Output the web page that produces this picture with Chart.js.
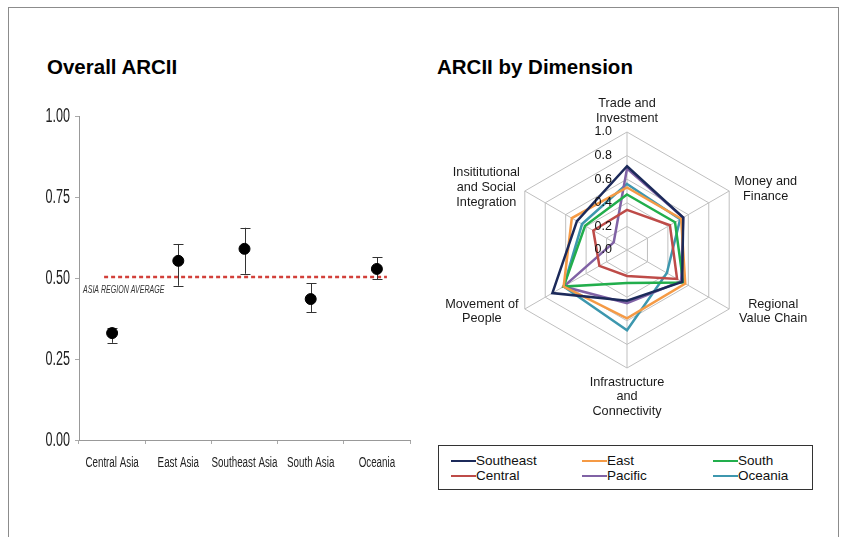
<!DOCTYPE html>
<html>
<head>
<meta charset="utf-8">
<script src="https://cdn.jsdelivr.net/npm/chart.js@4.4.1/dist/chart.umd.min.js"></script>
<style>
  html, body { margin:0; padding:0; background:#fff; }
  body { width:845px; height:537px; position:relative; overflow:hidden; font-family:"Liberation Sans", Arial, sans-serif; }
  #frame { position:absolute; left:8px; top:7px; width:829px; height:540px; border:1px solid #8c8c8c; border-bottom:none; }
  .title { position:absolute; font-weight:bold; font-size:20.5px; color:#000; line-height:20px; }
  #c1 { position:absolute; left:0; top:90px; }
  #c2 { position:absolute; left:430px; top:90px; }
  #legend { position:absolute; left:438px; top:445px; width:373px; height:43px; border:1px solid #333; }
  .li { position:absolute; font-size:13.5px; color:#111; line-height:14px; white-space:nowrap; }
  .ls { position:absolute; width:25px; height:2.5px; }
</style>
</head>
<body>
<div id="frame"></div>
<div class="title" style="left:47px; top:57px;">Overall ARCII</div>
<div class="title" style="left:437px; top:57px;">ARCII by Dimension</div>
<canvas id="c1" width="420" height="390"></canvas>
<canvas id="c2" width="415" height="340"></canvas>
<div id="legend"></div>
<script>
// ---- Overall ARCII data ----
const regions = ['Central Asia', 'East Asia', 'Southeast Asia', 'South Asia', 'Oceania'];
const overall = [0.33, 0.553, 0.59, 0.435, 0.528];
const errLow  = [0.30, 0.476, 0.513, 0.394, 0.496];
const errHigh = [0.347, 0.605, 0.655, 0.484, 0.564];
const asiaAverage = 0.503;
const averageLabel = 'ASIA REGION AVERAGE';
const overallTicks = [0, 0.25, 0.5, 0.75, 1.0];

// ---- ARCII by Dimension data ----
const dimensions = [
  ['Trade and', 'Investment'],
  ['Money and', 'Finance'],
  ['Regional', 'Value Chain'],
  ['Infrastructure', 'and', 'Connectivity'],
  ['Movement of', 'People'],
  ['Insititutional', 'and Social', 'Integration']
];
const seriesNames = ['Southeast', 'East', 'South', 'Central', 'Pacific', 'Oceania'];
const southeast = [0.71, 0.55, 0.54, 0.43, 0.73, 0.49];
const east      = [0.53, 0.53, 0.57, 0.58, 0.62, 0.54];
const south     = [0.47, 0.47, 0.55, 0.28, 0.62, 0.41];
const central   = [0.34, 0.42, 0.49, 0.22, 0.27, 0.33];
const pacific   = [0.69, 0.55, 0.53, 0.45, 0.62, 0.13];
const oceania   = [0.56, 0.52, 0.39, 0.68, 0.62, 0.44];
const radarTicks = [0, 0.2, 0.4, 0.6, 0.8, 1.0];

const seriesValues = [southeast, east, south, central, pacific, oceania];
const seriesColors = ['#1C2A5A', '#F59A45', '#22AE4C', '#BE4B48', '#8062A5', '#3D97AE'];

// draw horizontally condensed text (the source uses a narrow face)
function squeezed(ctx, text, x, y, sx, align) {
  ctx.save();
  ctx.translate(x, y);
  ctx.scale(sx, 1);
  ctx.textAlign = align;
  ctx.fillText(text, 0, 0);
  ctx.restore();
}

// ---------- Left chart ----------
const overallPlugin = {
  id: 'overallExtras',
  beforeDatasetsDraw(chart) {
    const xs = chart.scales.x, ys = chart.scales.y, ctx = chart.ctx;
    ctx.save();
    // average line
    const ay = ys.getPixelForValue(asiaAverage);
    ctx.strokeStyle = '#D2403A';
    ctx.lineWidth = 2.5;
    ctx.setLineDash([4, 3]);
    ctx.beginPath();
    ctx.moveTo(xs.getPixelForValue(0) - 8, ay);
    ctx.lineTo(xs.getPixelForValue(regions.length - 1) + 10, ay);
    ctx.stroke();
    ctx.setLineDash([]);
    ctx.fillStyle = '#333';
    ctx.font = 'italic 11px "Liberation Sans", Arial, sans-serif';
    ctx.textBaseline = 'middle';
    squeezed(ctx, averageLabel, chart.chartArea.left + 4, ay + 13, 0.64, 'left');
    // error bars
    ctx.strokeStyle = '#333';
    ctx.lineWidth = 1;
    regions.forEach((r, i) => {
      const px = Math.round(xs.getPixelForValue(i)) + 0.5;
      const lo = ys.getPixelForValue(errLow[i]);
      const hi = ys.getPixelForValue(errHigh[i]);
      ctx.beginPath();
      ctx.moveTo(px, lo); ctx.lineTo(px, hi);
      ctx.moveTo(px - 5, Math.round(lo) + 0.5); ctx.lineTo(px + 5, Math.round(lo) + 0.5);
      ctx.moveTo(px - 5, Math.round(hi) + 0.5); ctx.lineTo(px + 5, Math.round(hi) + 0.5);
      ctx.stroke();
    });
    ctx.restore();
  },
  afterDraw(chart) {
    const xs = chart.scales.x, ys = chart.scales.y, ctx = chart.ctx;
    ctx.save();
    ctx.fillStyle = '#222';
    ctx.textBaseline = 'middle';
    ctx.font = '20px "Liberation Sans", Arial, sans-serif';
    overallTicks.forEach(v => {
      squeezed(ctx, v.toFixed(2), ys.left + ys.width - 9, ys.getPixelForValue(v), 0.63, 'right');
    });
    ctx.font = '14px "Liberation Sans", Arial, sans-serif';
    regions.forEach((r, i) => {
      squeezed(ctx, r, xs.getPixelForValue(i), chart.chartArea.bottom + 23, 0.7, 'center');
    });
    ctx.restore();
  }
};

new Chart(document.getElementById('c1'), {
  type: 'line',
  data: {
    labels: regions,
    datasets: [{
      data: overall,
      showLine: false,
      pointRadius: 5.5,
      pointBackgroundColor: '#000',
      pointBorderColor: '#000',
      borderColor: '#000'
    }]
  },
  options: {
    responsive: false,
    animation: false,
    events: [],
    layout: { padding: { left: 0, top: 26, right: 10, bottom: 0 } },
    plugins: { legend: { display: false }, tooltip: { enabled: false } },
    scales: {
      x: {
        offset: true,
        afterFit: s => { s.height = 40; },
        grid: { display: true, drawOnChartArea: false, offset: true, tickLength: 4, color: '#aaa', tickColor: '#aaa' },
        border: { display: true, color: '#999', width: 1 },
        ticks: { display: false }
      },
      y: {
        min: 0, max: 1,
        afterFit: s => { s.width = 79; },
        afterBuildTicks: s => { s.ticks = overallTicks.map(v => ({ value: v })); },
        grid: { display: true, drawOnChartArea: false, tickLength: 4, color: '#aaa', tickColor: '#aaa' },
        border: { display: true, color: '#999', width: 1 },
        ticks: { display: false }
      }
    }
  },
  plugins: [overallPlugin]
});

// ---------- Radar chart ----------
const labelStyle = [
  { dx: 0,   dy: [-29, -14] },
  { dx: 36.5, dy: [-10, 5] },
  { dx: 44,  dy: [-5, 9] },
  { dx: 0,   dy: [14, 28, 43] },
  { dx: -43, dy: [-5, 9] },
  { dx: -38.5, dy: [-19, -3.5, 11] }
];
const radarText = {
  id: 'radarText',
  afterDraw(chart) {
    const s = chart.scales.r, ctx = chart.ctx;
    ctx.save();
    ctx.fillStyle = '#111';
    ctx.font = '12.5px "Liberation Sans", Arial, sans-serif';
    ctx.textAlign = 'right';
    ctx.textBaseline = 'middle';
    radarTicks.forEach(v => {
      const d = s.getDistanceFromCenterForValue(v);
      ctx.fillText(v.toFixed(1), s.xCenter - 15, s.yCenter - d);
    });
    ctx.font = '12.7px "Liberation Sans", Arial, sans-serif';
    ctx.fillStyle = '#1a1a1a';
    ctx.textAlign = 'center';
    dimensions.forEach((lines, i) => {
      const p = s.getPointPosition(i, s.drawingArea);
      const st = labelStyle[i];
      lines.forEach((t, k) => ctx.fillText(t, p.x + st.dx, p.y + st.dy[k]));
    });
    ctx.restore();
  }
};

new Chart(document.getElementById('c2'), {
  type: 'radar',
  data: {
    labels: dimensions,
    datasets: seriesNames.map((n, i) => ({
      label: n,
      data: seriesValues[i],
      borderColor: seriesColors[i],
      backgroundColor: 'transparent',
      borderWidth: 2.5,
      pointRadius: 0,
      fill: false,
      tension: 0
    }))
  },
  options: {
    responsive: false,
    animation: false,
    events: [],
    layout: { padding: { left: 79, right: 100, top: 42, bottom: 62 } },
    plugins: { legend: { display: false }, tooltip: { enabled: false } },
    scales: {
      r: {
        min: 0, max: 1,
        afterBuildTicks: s => { s.ticks = radarTicks.map(v => ({ value: v })); },
        ticks: { display: false, stepSize: 0.2 },
        pointLabels: { display: false },
        grid: { color: '#BFBFBF', lineWidth: 1 },
        angleLines: { color: '#BFBFBF', lineWidth: 1 }
      }
    }
  },
  plugins: [radarText]
});

// ---------- Legend ----------
const legendCols = [12, 143, 274];
const legendRows = [15, 30];
const legend = document.getElementById('legend');
seriesNames.forEach((n, i) => {
  const col = legendCols[i % 3], row = legendRows[Math.floor(i / 3)];
  const line = document.createElement('div');
  line.className = 'ls';
  line.style.left = col + 'px';
  line.style.top = (row - 1.25) + 'px';
  line.style.background = seriesColors[i];
  legend.appendChild(line);
  const t = document.createElement('div');
  t.className = 'li';
  t.style.left = (col + 25) + 'px';
  t.style.top = (row - 7) + 'px';
  t.textContent = n;
  legend.appendChild(t);
});
</script>
</body>
</html>
